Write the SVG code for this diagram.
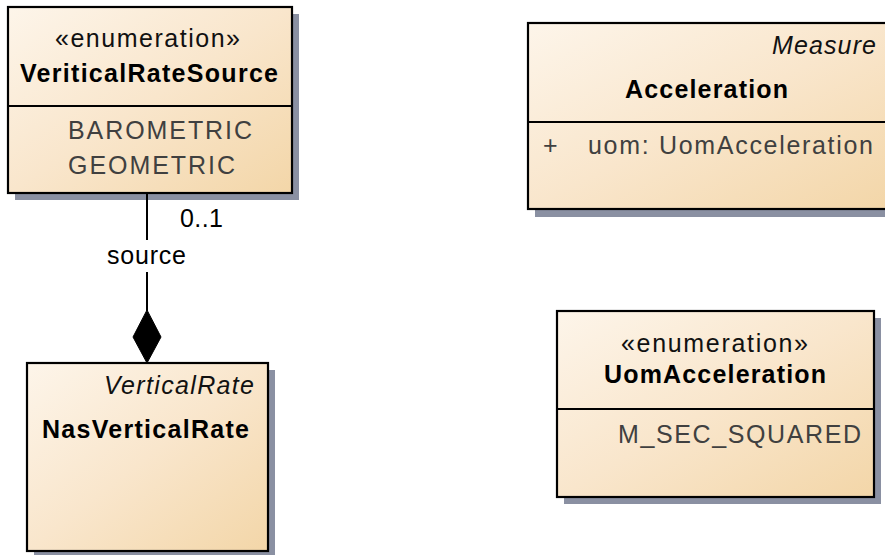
<svg xmlns="http://www.w3.org/2000/svg" width="885" height="555" viewBox="0 0 885 555">
<defs>
<linearGradient id="fill" x1="0" y1="0" x2="1" y2="1">
<stop offset="0" stop-color="#fdf5ea"/>
<stop offset="0.5" stop-color="#f9e6cc"/>
<stop offset="1" stop-color="#f3d6a8"/>
</linearGradient>
<style>
.shadow{fill:#8a90a2}
.box{fill:url(#fill);stroke:#000;stroke-width:2.2}
.div{stroke:#000;stroke-width:2}
text{font-family:"Liberation Sans",Arial,sans-serif;font-size:25px}
.st{fill:#111}
.nm{font-weight:bold;fill:#000;font-size:25px}
.at{fill:#404040}
.it{font-style:italic;fill:#111}
.lbl{fill:#000}
.conn{stroke:#000;stroke-width:2;fill:none}
</style>
</defs>
<rect width="885" height="555" fill="#fff"/>

<g id="VeriticalRateSource">
<rect class="shadow" x="15" y="14" width="284" height="186"/>
<rect class="box" x="8" y="7" width="284" height="186"/>
<line class="div" x1="8" y1="106" x2="292" y2="106"/>
<text class="st" x="55" y="47" textLength="185" lengthAdjust="spacing">«enumeration»</text>
<text class="nm" x="20" y="82" textLength="258" lengthAdjust="spacing">VeriticalRateSource</text>
<text class="at" x="68" y="139" textLength="184" lengthAdjust="spacing">BAROMETRIC</text>
<text class="at" x="68" y="174" textLength="167" lengthAdjust="spacing">GEOMETRIC</text>
</g>

<g id="Acceleration">
<rect class="shadow" x="535" y="30" width="360" height="187"/>
<rect class="box" x="528" y="23" width="362" height="186"/>
<line class="div" x1="528" y1="122" x2="890" y2="122"/>
<text class="it" x="772" y="54" textLength="104" lengthAdjust="spacing">Measure</text>
<text class="nm" x="625" y="98" textLength="163" lengthAdjust="spacing">Acceleration</text>
<text class="at" x="543" y="154">+</text>
<text class="at" x="588" y="154" textLength="285" lengthAdjust="spacing">uom: UomAcceleration</text>
</g>

<g id="NasVerticalRate">
<rect class="shadow" x="34" y="370" width="241" height="190"/>
<rect class="box" x="27" y="363" width="241" height="188"/>
<text class="it" x="104" y="394" textLength="150" lengthAdjust="spacing">VerticalRate</text>
<text class="nm" x="42" y="438" textLength="207" lengthAdjust="spacing">NasVerticalRate</text>
</g>

<g id="UomAcceleration">
<rect class="shadow" x="564" y="318" width="317" height="186"/>
<rect class="box" x="557" y="311" width="317" height="186"/>
<line class="div" x1="557" y1="409" x2="874" y2="409"/>
<text class="st" x="621" y="352" textLength="187" lengthAdjust="spacing">«enumeration»</text>
<text class="nm" x="604" y="383" textLength="222" lengthAdjust="spacing">UomAcceleration</text>
<text class="at" x="618" y="443" textLength="243" lengthAdjust="spacing">M_SEC_SQUARED</text>
</g>

<g id="connectors">
<line class="conn" x1="147" y1="193" x2="147" y2="240"/>
<line class="conn" x1="147" y1="272" x2="147" y2="311"/>
<polygon points="147,310 161,337 147,363 133,337" fill="#000" stroke="#000" stroke-width="1"/>
<text class="lbl" x="107" y="264" textLength="79" lengthAdjust="spacing">source</text>
<text class="lbl" x="180" y="227" textLength="43" lengthAdjust="spacing">0..1</text>
</g>
</svg>
